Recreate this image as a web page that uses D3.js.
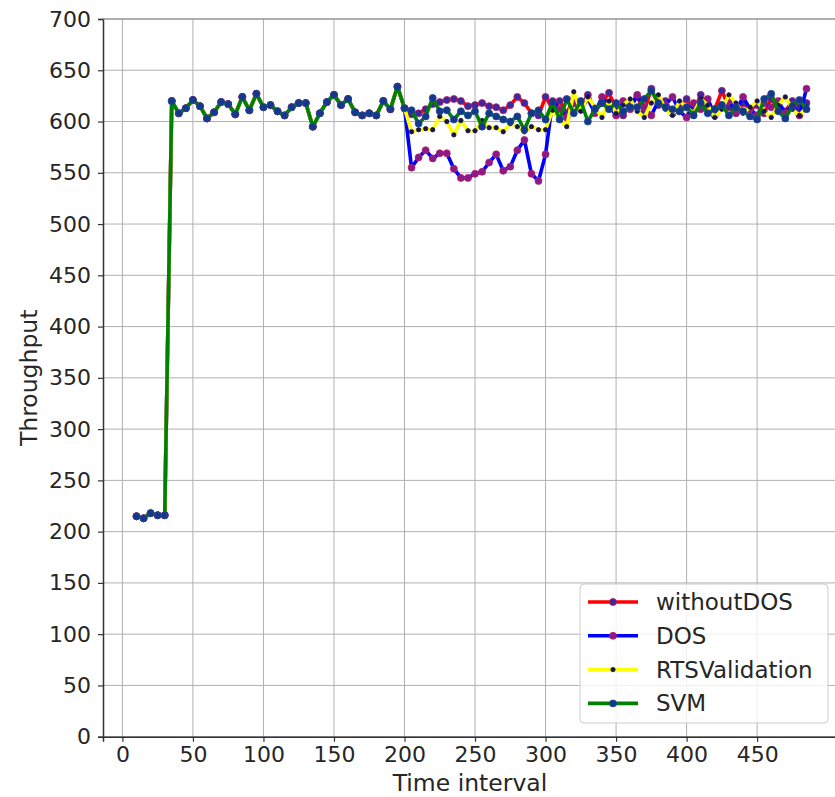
<!DOCTYPE html>
<html>
<head>
<meta charset="utf-8">
<script src="https://cdn.jsdelivr.net/npm/d3@7"></script>
<style>
  body { margin: 0; background: #fff; }
  text { font-family: "DejaVu Sans", sans-serif; fill: #262626; }
</style>
</head>
<body>
<main></main>
<script>
// Time axis values
const times = [10, 15, 20, 25, 30, 35, 40, 45, 50, 55, 60, 65, 70, 75, 80, 85, 90, 95, 100,
    105, 110, 115, 120, 125, 130, 135, 140, 145, 150, 155, 160, 165, 170, 175, 180, 185, 190, 195, 200,
    205, 210, 215, 220, 225, 230, 235, 240, 245, 250, 255, 260, 265, 270, 275, 280, 285, 290, 295, 300,
    305, 310, 315, 320, 325, 330, 335, 340, 345, 350, 355, 360, 365, 370, 375, 380, 385, 390, 395, 400,
    405, 410, 415, 420, 425, 430, 435, 440, 445, 450, 455, 460, 465, 470, 475, 480, 485];

// Shared part (t = 10..200), all four runs coincide here
const common = [215, 213, 218, 216, 216, 620, 608, 613, 621, 615, 603, 609, 619, 617, 607, 624, 611, 627, 614,
    616, 610, 606, 614, 618, 618, 595, 608, 619, 626, 616, 622, 609, 606, 608, 606, 620, 612, 634, 613];

// t = 205..485
const withoutDOS = [607, 608, 612, 617, 619, 621, 622, 620, 615, 616, 618, 615, 614, 611, 616, 624, 618, 608, 606, 624,
    612, 620, 608, 622, 614, 626, 610, 618, 628, 612, 606, 618, 624, 610, 632, 616, 620, 608, 614, 622,
    610, 626, 616, 612, 630, 614, 608, 618, 612, 616, 608, 622, 614, 610, 620, 614, 618];
const dos = [555, 565, 572, 564, 569, 569, 554, 545, 545, 549, 551, 560, 568, 552, 556, 572, 582, 549, 542, 568,
    620, 612, 604, 618, 612, 622, 608, 624, 616, 606, 620, 612, 626, 614, 606, 620, 616, 624, 610, 604,
    618, 612, 622, 606, 616, 620, 610, 624, 612, 606, 618, 614, 620, 608, 616, 606, 632];
const rtsValidation = [590, 592, 593, 592, 605, 600, 587, 601, 591, 591, 601, 594, 594, 590, 598, 595, 590, 595, 592, 592,
    611, 602, 595, 629, 610, 624, 614, 604, 620, 608, 616, 622, 610, 604, 618, 626, 612, 606, 620, 614,
    608, 622, 616, 604, 612, 626, 618, 608, 614, 620, 610, 604, 616, 624, 612, 606, 614];
const svm = [611, 598, 605, 623, 610, 611, 602, 610, 606, 610, 595, 608, 605, 602, 600, 605, 592, 608, 611, 602,
    619, 602, 622, 608, 620, 600, 612, 618, 612, 618, 610, 614, 614, 622, 630, 618, 614, 612, 610, 614,
    606, 618, 608, 612, 616, 606, 614, 610, 605, 602, 622, 627, 610, 603, 615, 621, 612];

const xTicks = [0, 50, 100, 150, 200, 250, 300, 350, 400, 450];
const yTicks = [0, 50, 100, 150, 200, 250, 300, 350, 400, 450, 500, 550, 600, 650, 700];

const series = [
    { name: 'withoutDOS', values: common.concat(withoutDOS), line: '#ff0000', face: '#3b2a9e', edge: '#c0185a', r: 3.5 },
    { name: 'DOS', values: common.concat(dos), line: '#0000ff', face: '#8a1a86', edge: '#b8206a', r: 3.5 },
    { name: 'RTSValidation', values: common.concat(rtsValidation), line: '#ffff00', face: '#15154a', edge: '#15154a', r: 2.2 },
    { name: 'SVM', values: common.concat(svm), line: '#008000', face: '#16378c', edge: '#1a4a90', r: 3.5 }
];

const width = 835, height = 797;
const svg = d3.select('main').append('svg')
    .attr('width', width)
    .attr('height', height);

const x = d3.scaleLinear().domain([-13.75, 508.75]).range([103, 840]);
const y = d3.scaleLinear().domain([0, 700]).range([736.7, 19]);

// grid
svg.append('g').selectAll('line')
    .data(xTicks).enter().append('line')
    .attr('x1', d => x(d)).attr('x2', d => x(d))
    .attr('y1', y(700)).attr('y2', y(0))
    .attr('stroke', '#b0b0b0').attr('stroke-width', 1);
svg.append('g').selectAll('line')
    .data(yTicks).enter().append('line')
    .attr('x1', x.range()[0]).attr('x2', x.range()[1])
    .attr('y1', d => y(d)).attr('y2', d => y(d))
    .attr('stroke', '#b0b0b0').attr('stroke-width', 1);

// axes
const xAxis = svg.append('g')
    .attr('transform', `translate(0,${y(0)})`)
    .call(d3.axisBottom(x).tickValues(xTicks).tickSize(5).tickPadding(5));
const yAxis = svg.append('g')
    .attr('transform', `translate(${x.range()[0]},0)`)
    .call(d3.axisLeft(y).tickValues(yTicks).tickSize(5).tickPadding(7));
[xAxis, yAxis].forEach(a => {
    a.select('.domain').attr('stroke', '#333').attr('stroke-width', 1.5);
    a.selectAll('.tick line').attr('stroke', '#333').attr('stroke-width', 1.2);
    a.selectAll('.tick text').attr('font-size', 22).attr('font-family', 'DejaVu Sans').attr('fill', '#262626');
});
// top spine
svg.append('line')
    .attr('x1', x.range()[0]).attr('x2', x.range()[1])
    .attr('y1', y(700)).attr('y2', y(700))
    .attr('stroke', '#888').attr('stroke-width', 1.2);

// axis labels
svg.append('text')
    .attr('x', 470).attr('y', 791)
    .attr('text-anchor', 'middle')
    .attr('font-size', 23.5)
    .text('Time interval');
svg.append('text')
    .attr('transform', `translate(37,${(y(0) + y(700)) / 2}) rotate(-90)`)
    .attr('text-anchor', 'middle')
    .attr('font-size', 23.5)
    .text('Throughput');

const line = d3.line()
    .x((d, i) => x(times[i]))
    .y(d => y(d));

const plot = svg.append('g');
series.forEach(s => {
    plot.append('path')
        .datum(s.values)
        .attr('fill', 'none')
        .attr('stroke', s.line)
        .attr('stroke-width', 3.6)
        .attr('stroke-linejoin', 'round')
        .attr('d', line);
    plot.append('g').selectAll('circle')
        .data(s.values).enter().append('circle')
        .attr('cx', (d, i) => x(times[i]))
        .attr('cy', d => y(d))
        .attr('r', s.r)
        .attr('fill', s.face)
        .attr('stroke', s.edge)
        .attr('stroke-width', 0.8);
});

// legend
const legend = svg.append('g');
legend.append('rect')
    .attr('x', 580).attr('y', 584)
    .attr('width', 248).attr('height', 139)
    .attr('rx', 4)
    .attr('fill', '#fff').attr('fill-opacity', 0.8)
    .attr('stroke', '#cccccc').attr('stroke-width', 1);
series.forEach((s, i) => {
    const ly = 602 + i * 33.8;
    legend.append('line')
        .attr('x1', 588).attr('x2', 638)
        .attr('y1', ly).attr('y2', ly)
        .attr('stroke', s.line).attr('stroke-width', 3.6);
    legend.append('circle')
        .attr('cx', 613).attr('cy', ly)
        .attr('r', s.r)
        .attr('fill', s.face).attr('stroke', s.edge).attr('stroke-width', 0.8);
    legend.append('text')
        .attr('x', 656).attr('y', ly + 8)
        .attr('font-size', 23)
        .text(s.name);
});
</script>
</body>
</html>
